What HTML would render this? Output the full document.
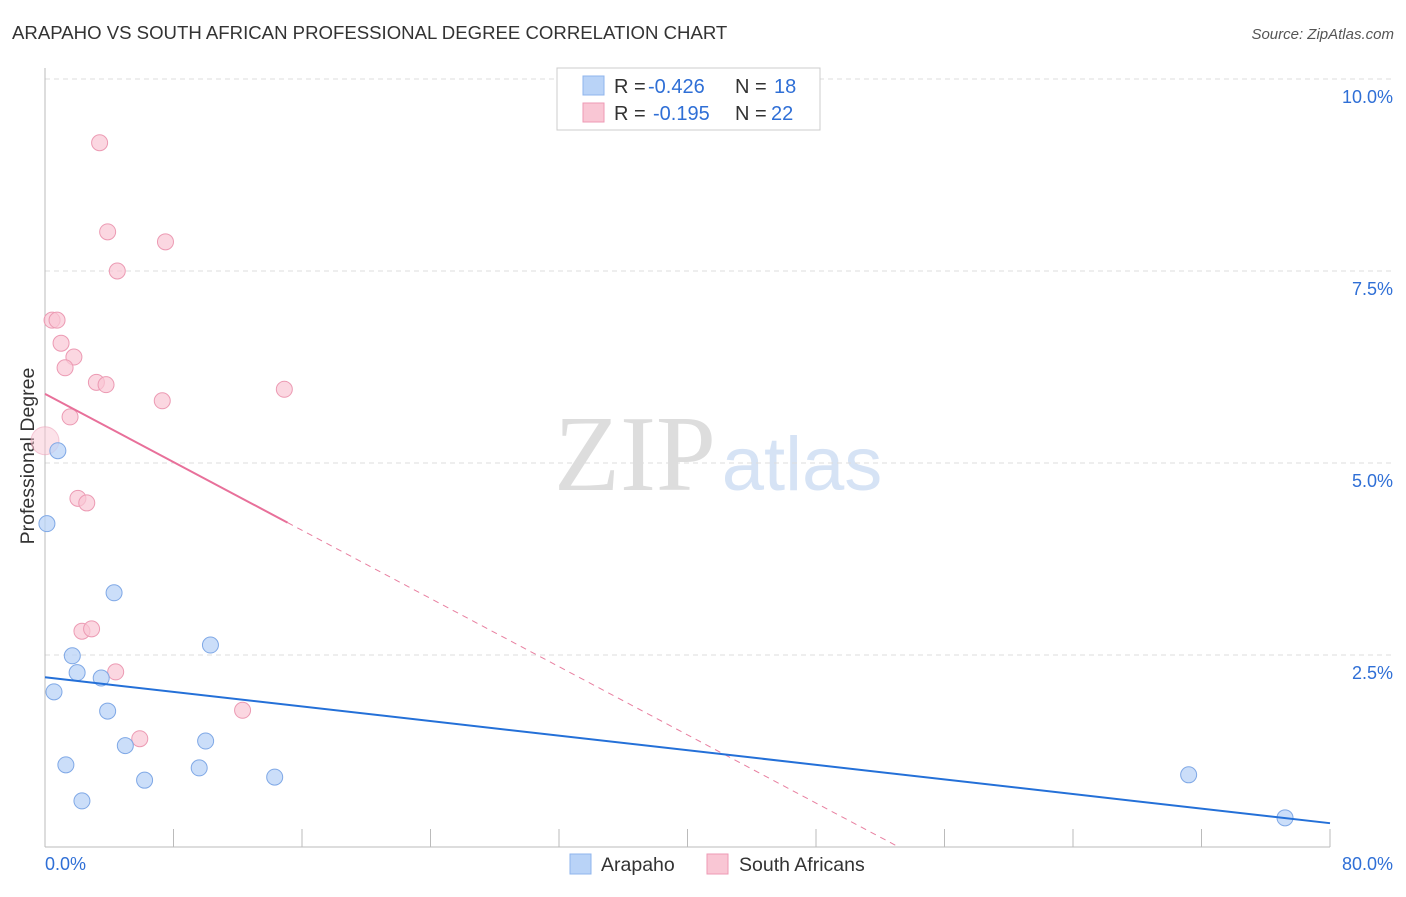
<!DOCTYPE html>
<html><head><meta charset="utf-8"><style>
body{margin:0;background:#fff;width:1406px;height:892px;overflow:hidden;font-family:"Liberation Sans",sans-serif}
</style></head><body>
<svg id="c" width="1406" height="892" xmlns="http://www.w3.org/2000/svg">
<text x="12" y="39" font-size="18.6" fill="#333">ARAPAHO VS SOUTH AFRICAN PROFESSIONAL DEGREE CORRELATION CHART</text>
<text x="1394" y="39" font-size="15" fill="#555" font-style="italic" text-anchor="end">Source: ZipAtlas.com</text>
<text x="635" y="490" font-size="108" fill="#ddd" font-family="Liberation Serif,serif" text-anchor="middle">ZIP</text>
<text x="802" y="490" font-size="76" fill="#d6e3f5" text-anchor="middle">atlas</text>
<text transform="translate(34,456) rotate(-90)" font-size="19.5" fill="#333" text-anchor="middle">Professional Degree</text>
<g id="grid"></g><g id="marks"></g>
<g>
<rect x="557" y="68" width="263" height="62" fill="#fff" stroke="#ccc"/>
<rect x="583" y="76" width="21" height="19" fill="#b9d3f7" stroke="#8fb4ec"/>
<text x="614" y="93" font-size="20" fill="#333">R = <tspan fill="#2f6fd6" x="648">-0.426</tspan><tspan x="735">N = </tspan><tspan fill="#2f6fd6" x="774">18</tspan></text>
<rect x="583" y="103" width="21" height="19" fill="#f9c6d4" stroke="#ee9ab4"/>
<text x="614" y="120" font-size="20" fill="#333">R = <tspan fill="#2f6fd6" x="653">-0.195</tspan><tspan x="735">N = </tspan><tspan fill="#2f6fd6" x="771">22</tspan></text>
</g>
<g>
<rect x="570" y="854" width="21" height="20" fill="#b9d3f7" stroke="#8fb4ec"/>
<text x="601" y="871" font-size="19.5" fill="#333">Arapaho</text>
<rect x="707" y="854" width="21" height="20" fill="#f9c6d4" stroke="#ee9ab4"/>
<text x="739" y="871" font-size="19.5" fill="#333">South Africans</text>
</g>
</svg>
<script>
const blueX=[0.12,0.8,4.3,1.7,2.0,0.56,3.5,10.3,3.9,5.0,10.0,1.3,9.6,6.2,14.3,2.3,71.2,77.2];
const blueY=[4.21,5.16,3.31,2.49,2.27,2.02,2.2,2.63,1.77,1.32,1.38,1.07,1.03,0.87,0.91,0.6,0.94,0.38];
const pinkX=[3.4,3.9,7.5,4.5,0.44,0.75,1.0,1.8,1.25,3.2,3.8,14.9,7.3,1.56,0,2.05,2.6,2.3,2.9,4.4,12.3,5.9];
const pinkY=[9.17,8.01,7.88,7.5,6.86,6.86,6.56,6.38,6.24,6.05,6.02,5.96,5.81,5.6,5.29,4.54,4.48,2.81,2.84,2.28,1.78,1.41];
const yTicks=[2.5,5.0,7.5,10.0];
const blueTrend=[2.21,0.31];
const pinkTrend=[5.9,-0.111];
const NS="http://www.w3.org/2000/svg";
const sx=v=>45+v*(1330-45)/80, sy=v=>847-v*76.8;
function mk(t,a,p){const e=document.createElementNS(NS,t);for(const k in a)e.setAttribute(k,a[k]);p.appendChild(e);return e;}
const g=document.getElementById('grid'), m=document.getElementById('marks');
yTicks.forEach(t=>{
 const l=mk('line',{x1:45,x2:1394,y1:sy(t),y2:sy(t),stroke:'#ddd','stroke-dasharray':'5,4'},g);
 
 
 const tx=mk('text',{x:1393,y:sy(t)+24,'font-size':18,fill:'#2f6fd6','text-anchor':'end'},g);
 tx.textContent=t.toFixed(1)+'%';
 
 
});
mk('line',{x1:45,x2:45,y1:68,y2:847,stroke:'#bbb'},g);
mk('line',{x1:45,x2:1330,y1:847,y2:847,stroke:'#bbb'},g);
for(let i=0;i<=10;i++){const l=mk('line',{x1:sx(i*8),x2:sx(i*8),y1:829,y2:847,stroke:'#bbb'},g);
 
 }
const x0=mk('text',{x:45,y:870,'font-size':18,fill:'#2f6fd6'},g);x0.textContent='0.0%';


const x1=mk('text',{x:1393,y:870,'font-size':18,fill:'#2f6fd6','text-anchor':'end'},g);x1.textContent='80.0%';


pinkX.forEach((x,i)=>{const c=mk('circle',{cx:sx(x),cy:sy(pinkY[i]),r:x===0?14:8,fill:'#f9c6d4','fill-opacity':x===0?0.5:0.7,stroke:'#ec9ab3','stroke-opacity':x===0?0.5:1},m);
 
 });
blueX.forEach((x,i)=>{const c=mk('circle',{cx:sx(x),cy:sy(blueY[i]),r:8,fill:'#b9d3f7','fill-opacity':0.75,stroke:'#7fa8e6'},m);
 
 });
const pe=15.1, pz=-pinkTrend[0]/pinkTrend[1];
const pd=mk('line',{x1:sx(pe),y1:sy(pinkTrend[0]+pinkTrend[1]*pe),x2:sx(pz),y2:sy(0),stroke:'#e87fa0','stroke-dasharray':'6,5','stroke-width':1},m);


const ps=mk('line',{x1:sx(0),y1:sy(pinkTrend[0]),x2:sx(pe),y2:sy(pinkTrend[0]+pinkTrend[1]*pe),stroke:'#e8709a','stroke-width':2},m);


const bl=mk('line',{x1:sx(0),y1:sy(blueTrend[0]),x2:sx(80),y2:sy(blueTrend[1]),stroke:'#2470d8','stroke-width':2},m);


</script>
</body></html>
